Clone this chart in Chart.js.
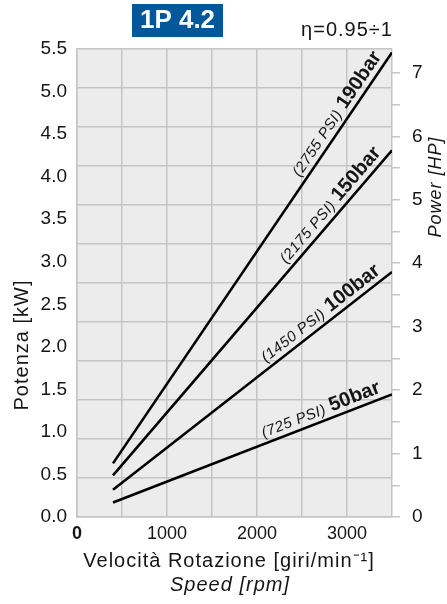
<!DOCTYPE html>
<html>
<head>
<meta charset="utf-8">
<script src="https://cdn.jsdelivr.net/npm/chart.js@4"></script>
<style>
  html, body { margin: 0; padding: 0; background: #fff; }
</style>
</head>
<body>
<canvas id="chart" width="447" height="604"></canvas>
<script>
// 1P 4.2 power curves: absorbed power vs. shaft speed at four pressures.
// kW on the left, HP on the right (same physical scale, 1 HP = 0.7457 kW).

const FONT = '"Liberation Sans", Arial, sans-serif';
const KW_PER_HP = 0.7457;

// ── Data ──────────────────────────────────────────────────────────────
const speeds = [400, 3500];                                   // rpm
const pressures = ["50bar", "100bar", "150bar", "190bar"];
const psiLabels = ["(725 PSI)", "(1450 PSI)", "(2175 PSI)", "(2755 PSI)"];
const kw50 = [0.17, 1.44];
const kw100 = [0.32, 2.88];
const kw150 = [0.49, 4.31];
const kw190 = [0.63, 5.46];

const rpmTicks = [0, 500, 1000, 1500, 2000, 2500, 3000, 3500];
const rpmLabels = [0, 1000, 2000, 3000];
const kwTicks = [0, 0.5, 1, 1.5, 2, 2.5, 3, 3.5, 4, 4.5, 5, 5.5];
const hpTicks = [0, 0.5, 1, 1.5, 2, 2.5, 3, 3.5, 4, 4.5, 5, 5.5, 6, 6.5, 7];
const gridRows = [0, 1, 2, 3, 4, 5, 6, 7, 8, 9, 10, 11, 12];  // plot is split in 12 bands

const GRID = "#c4c5c4";
const INK = "#151515";

function series(vals) {
  return speeds.map((s, i) => ({ x: s, y: vals[i] }));
}

// ── Plugins ───────────────────────────────────────────────────────────
const plotBg = {
  id: "plotBg",
  beforeDraw(chart) {
    const { ctx, chartArea: a } = chart;
    ctx.save();
    ctx.fillStyle = "#ebeceb";
    ctx.fillRect(a.left, a.top, a.right - a.left, a.bottom - a.top);
    ctx.restore();
  },
};

// "(xxxx PSI) NNNbar" written along each line, just above its right end.
const lineLabels = {
  id: "lineLabels",
  afterDatasetsDraw(chart) {
    const ctx = chart.ctx;
    chart.data.datasets.forEach((ds, i) => {
      const pts = chart.getDatasetMeta(i).data;
      const a = pts[0], b = pts[pts.length - 1];
      const ang = Math.atan2(b.y - a.y, b.x - a.x);
      ctx.save();
      ctx.translate(b.x, b.y);
      ctx.rotate(ang);
      ctx.fillStyle = INK;
      ctx.textAlign = "right";
      ctx.textBaseline = "alphabetic";
      ctx.font = "bold 20px " + FONT;
      const wb = ctx.measureText(pressures[i]).width;
      ctx.fillText(pressures[i], -9, -6);
      ctx.font = "italic 15px " + FONT;
      ctx.letterSpacing = "0.5px";
      ctx.fillText(psiLabels[i], -9 - wb - 5, -6);
      ctx.restore();
    });
  },
};

// Title badge, efficiency note and axis titles.
const decor = {
  id: "decor",
  afterDraw(chart) {
    const ctx = chart.ctx;
    ctx.save();
    ctx.fillStyle = "#00589b";
    ctx.fillRect(132, 4, 91, 33);
    ctx.fillStyle = "#fff";
    ctx.font = "bold 26px " + FONT;
    ctx.textAlign = "center";
    ctx.textBaseline = "middle";
    ctx.fillText("1P 4.2", 177.5, 21);

    ctx.fillStyle = INK;
    ctx.textBaseline = "alphabetic";
    ctx.letterSpacing = "1px";
    ctx.font = "20px " + FONT;
    ctx.fillText("η=0.95÷1", 347, 36);

    ctx.font = "20px " + FONT;
    ctx.fillText("Velocità Rotazione [giri/min⁻¹]", 229, 567);
    ctx.font = "italic 20px " + FONT;
    ctx.fillText("Speed [rpm]", 230, 591);

    ctx.save();
    ctx.translate(28, 345);
    ctx.rotate(-Math.PI / 2);
    ctx.font = "20px " + FONT;
    ctx.fillText("Potenza [kW]", 0, 0);
    ctx.restore();

    ctx.save();
    ctx.translate(441, 187);
    ctx.rotate(-Math.PI / 2);
    ctx.font = "italic 18px " + FONT;
    ctx.fillText("Power [HP]", 0, 0);
    ctx.restore();
    ctx.restore();
  },
};

// ── Chart ─────────────────────────────────────────────────────────────
const lineStyle = { borderColor: "#000", borderWidth: 2.6, pointRadius: 0, fill: false, tension: 0 };

new Chart(document.getElementById("chart"), {
  type: "line",
  data: {
    datasets: [
      { ...lineStyle, data: series(kw50) },
      { ...lineStyle, data: series(kw100) },
      { ...lineStyle, data: series(kw150) },
      { ...lineStyle, data: series(kw190) },
    ],
  },
  options: {
    responsive: false,
    devicePixelRatio: 1,
    animation: false,
    layout: { padding: { top: 49, left: 0, right: 0, bottom: 0 } },
    plugins: { legend: { display: false }, tooltip: { enabled: false } },
    scales: {
      x: {
        type: "linear", min: 0, max: 3500,
        afterBuildTicks: (s) => { s.ticks = rpmTicks.map((v) => ({ value: v })); },
        afterFit: (s) => { s.height = 87; },
        grid: { color: GRID, drawTicks: false, lineWidth: 1.5 },
        border: { color: GRID, width: 1.5 },
        ticks: {
          autoSkip: false, maxRotation: 0, padding: 6, color: INK,
          font: (c) => ({ family: FONT, size: 18, weight: c.tick && c.tick.value === 0 ? "bold" : "normal" }),
          callback: (v) => (rpmLabels.includes(v) ? String(v) : ""),
        },
      },
      y: {
        position: "left", min: 0, max: 5.5,
        afterBuildTicks: (s) => { s.ticks = kwTicks.map((v) => ({ value: v })); },
        afterFit: (s) => { s.width = 77; },
        grid: { display: false, drawTicks: false },
        border: { color: GRID, width: 1.5 },
        ticks: { padding: 10, color: INK, font: { family: FONT, size: 19 }, callback: (v) => v.toFixed(1) },
      },
      g: {
        position: "left", min: 0, max: 12,
        afterBuildTicks: (s) => { s.ticks = gridRows.map((v) => ({ value: v })); },
        afterFit: (s) => { s.width = 0; },
        grid: { color: GRID, drawTicks: false, lineWidth: 1.5 },
        border: { display: false },
        ticks: { display: false },
      },
      hp: {
        position: "right", min: 0, max: 5.5 / KW_PER_HP,
        afterBuildTicks: (s) => { s.ticks = hpTicks.map((v) => ({ value: v })); },
        afterFit: (s) => { s.width = 55; },
        grid: { drawOnChartArea: false, drawTicks: true, tickLength: 8, color: GRID, lineWidth: 1.5 },
        border: { display: false },
        ticks: {
          padding: 12, color: INK, font: { family: FONT, size: 19 },
          callback: (v) => (Number.isInteger(v) ? String(v) : ""),
        },
      },
    },
  },
  plugins: [plotBg, lineLabels, decor],
});
</script>
</body>
</html>
